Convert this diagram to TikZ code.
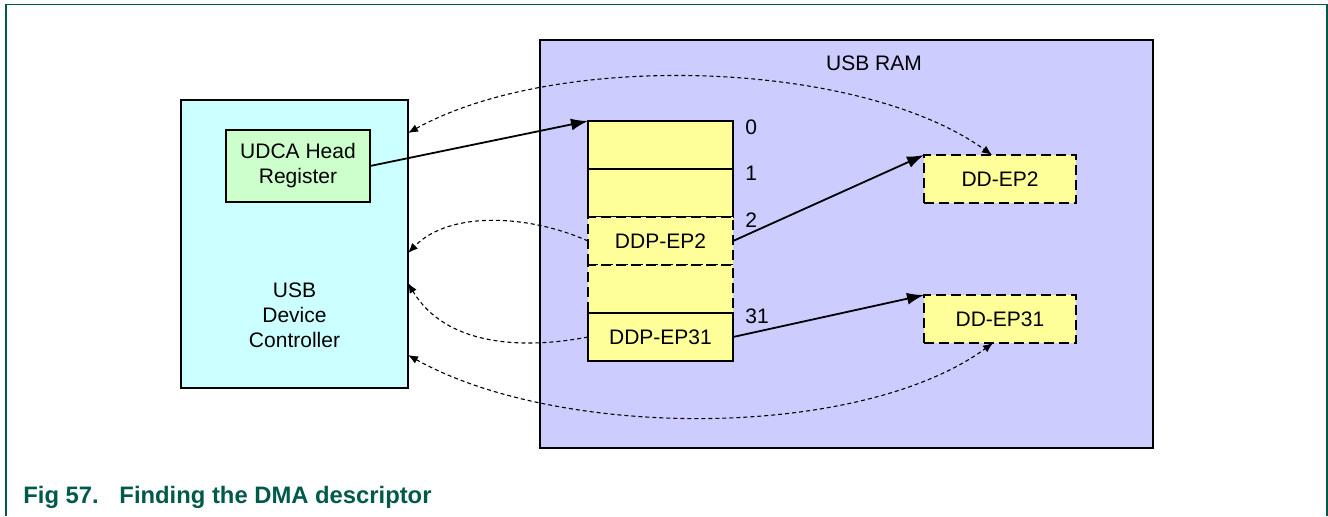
\documentclass[tikz,border=0pt]{standalone}
\usepackage{fontspec}
\setmainfont{Liberation Sans}
\usetikzlibrary{arrows.meta,positioning}
\definecolor{ctrlcyan}{HTML}{CCFFFF}
\definecolor{reggreen}{HTML}{CCFFCC}
\definecolor{ramblue}{HTML}{CCCCFF}
\definecolor{slotyellow}{HTML}{FFFF99}
\definecolor{figgreen}{HTML}{00594A}

\begin{document}
\begin{tikzpicture}[x=0.5pt,y=-0.5pt,
  box/.style={draw,line width=0.8pt,inner sep=0pt,outer sep=0pt,align=center,
    font=\fontsize{10.5}{12.5}\selectfont},
  slot/.style={box,fill=slotyellow,minimum width=72.5pt,minimum height=24pt},
  dslot/.style={slot,line width=1.4pt,dash pattern=on 5pt off 2.5pt},
  idx/.style={anchor=west,inner sep=0pt,font=\fontsize{10.5}{12}\selectfont},
  ptr/.style={-{Latex[length=8.5pt,width=6pt]},line width=0.9pt},
  link/.style={line width=0.55pt,dash pattern=on 2pt off 1.5pt,
    >={Latex[length=5pt,width=4pt]}}]
  \useasboundingbox (0,0) rectangle (1328,516);
  % figure frame, open at the bottom
  \draw[figgreen,line width=0.75pt] (6,516) -- (6,4.5) -- (1327,4.5) -- (1327,516);
  \node[anchor=base west,inner sep=0pt,text=figgreen,font=\bfseries\fontsize{11.9}{14}\selectfont]
    (caption) at (23,503) {Fig 57.\hspace{10.35pt}Finding the DMA descriptor};

  % USB device controller
  \node[box,fill=ctrlcyan,minimum width=113.5pt,minimum height=144pt] (ctrl) at (294.5,244) {};
  \node[box,fill=reggreen,minimum width=72pt,minimum height=36pt] (udca) at (298,166) {UDCA Head\\Register};
  \node[box,draw=none] (ctrltext) at (294.5,315) {USB\\Device\\Controller};

  % USB RAM with the UDCA table
  \node[box,fill=ramblue,minimum width=306.5pt,minimum height=204pt] (ram) at (846.5,244) {};
  \node[box,draw=none] (ramtext) at (874,63.5) {USB RAM};
  \node[slot] (row0) at (660.5,145) {};
  \node[slot,below=0pt of row0] (row1) {};
  \node[dslot,below=0pt of row1] (row2) {DDP-EP2};
  \node[dslot,below=0pt of row2] (row3) {};
  \node[slot,below=0pt of row3] (row4) {DDP-EP31};
  \node[idx] (idx0) at ([xshift=6pt,yshift=-3pt]row0.north east) {0};
  \node[idx] (idx1) at ([xshift=6pt,yshift=-2pt]row1.north east) {1};
  \node[idx] (idx2) at ([xshift=6pt,yshift=-1.5pt]row2.north east) {2};
  \node[idx] (idx31) at ([xshift=6pt,yshift=-1.5pt]row4.north east) {31};

  % DMA descriptors
  \node[dslot,minimum width=76pt] (dd2) at (1000,179) {DD-EP2};
  \node[dslot,minimum width=76pt] (dd31) at (1000,319) {DD-EP31};

  % pointers
  \draw[ptr] (udca.east) -- (row0.north west);
  \draw[ptr] (row2.east) -- (dd2.north west);
  \draw[ptr] (row4.east) -- (dd31.north west);

  % dashed links back to the controller
  \draw[link,<->] ([yshift=-16.5pt]ctrl.north east) .. controls +(150,-83) and +(-132,-95) .. ([xshift=-4pt]dd2.north);
  \draw[link,->] (row2.west) .. controls +(-58,-26) and +(42,-43) .. ([yshift=-4.5pt]ctrl.east);
  \draw[link,->] (row4.west) .. controls +(-68,13) and +(37,62) .. ([yshift=-19.5pt]ctrl.east);
  \draw[link,<->] ([yshift=16.5pt]ctrl.south east) .. controls +(152,85) and +(-133,97) .. ([xshift=-3.5pt]dd31.south);
\end{tikzpicture}
\end{document}
